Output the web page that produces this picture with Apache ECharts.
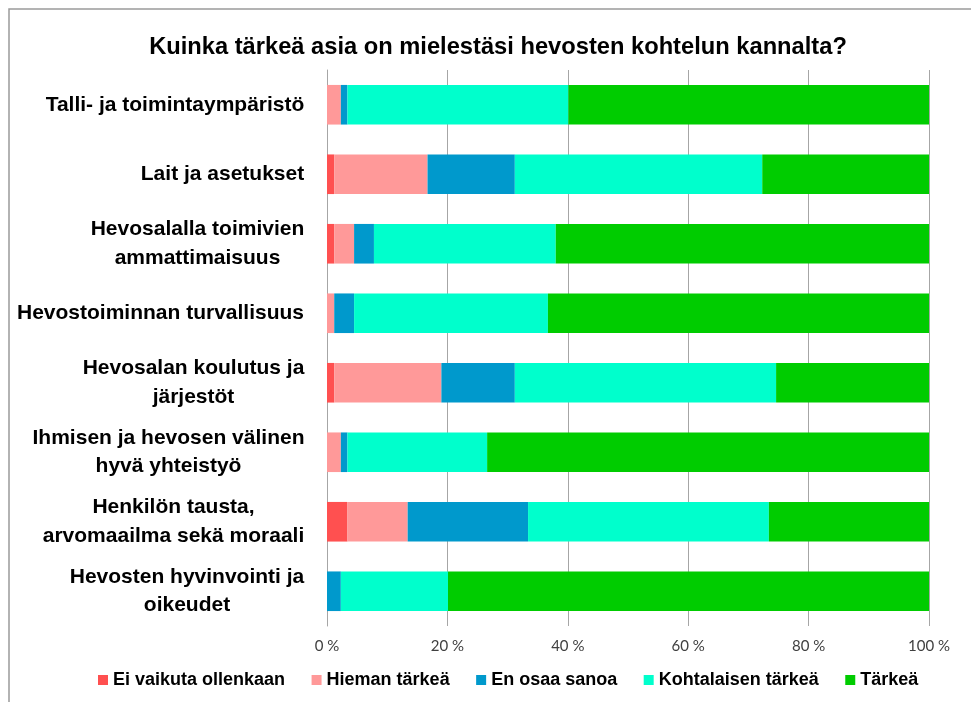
<!DOCTYPE html>
<html>
<head>
<meta charset="utf-8">
<script src="https://cdn.jsdelivr.net/npm/echarts@6/dist/echarts.min.js"></script>
<style>
  html, body { margin: 0; padding: 0; background: #fff; }
  #chart { width: 971px; height: 702px; }
</style>
</head>
<body>
<div id="chart"></div>
<script>
// kategoriat ylhäältä alas
const categories = [
  'Talli- ja toimintaympäristö',
  'Lait ja asetukset',
  'Hevosalalla toimivien\nammattimaisuus',
  'Hevostoiminnan turvallisuus',
  'Hevosalan koulutus ja\njärjestöt',
  'Ihmisen ja hevosen välinen\nhyvä yhteistyö',
  'Henkilön tausta,\narvomaailma sekä moraali',
  'Hevosten hyvinvointi ja\noikeudet'
]

const seriesNames = ['Ei vaikuta ollenkaan', 'Hieman tärkeä', 'En osaa sanoa', 'Kohtalaisen tärkeä', 'Tärkeä']
const colors = ['#FF5050', '#FF9999', '#0099CC', '#00FFCC', '#00CC00']

// prosentit
const eiVaikuta = [0, 1.2, 1.2, 0, 1.2, 0, 3.4, 0]
const hiemanTarkea = [2.3, 15.5, 3.3, 1.2, 17.8, 2.3, 10.0, 0]
const enOsaaSanoa = [1.1, 14.5, 3.3, 3.3, 12.2, 1.1, 20.0, 2.3]
const kohtalaisenTarkea = [36.7, 41.1, 30.2, 32.2, 43.4, 23.2, 40.0, 17.8]
const tarkea = [59.9, 27.7, 62.0, 63.3, 25.4, 73.4, 26.6, 79.9]

const xTicks = [0, 20, 40, 60, 80, 100]

const FONT = '"Liberation Sans", Arial, sans-serif'
const LABEL_SIZE = 21

// mittaa rivien leveys, jotta monirivinen nimi keskitetään
const ctx = document.createElement('canvas').getContext('2d')
ctx.font = 'bold ' + LABEL_SIZE + 'px ' + FONT
const rich = {}
categories.forEach((c, i) => {
  const w = Math.max(...c.split('\n').map((s) => ctx.measureText(s).width))
  rich['c' + i] = {
    width: Math.ceil(w) + 1,
    align: 'center',
    fontFamily: FONT,
    fontWeight: 'bold',
    fontSize: LABEL_SIZE,
    lineHeight: 28.5,
    color: '#000'
  }
})

const allData = [eiVaikuta, hiemanTarkea, enOsaaSanoa, kohtalaisenTarkea, tarkea]

const chart = echarts.init(document.getElementById('chart'))

chart.setOption({
  animation: false,
  color: colors,
  textStyle: { fontFamily: FONT },
  title: {
    text: 'Kuinka tärkeä asia on mielestäsi hevosten kohtelun kannalta?',
    left: 493,
    top: 30,
    textAlign: 'center',
    textStyle: { fontFamily: FONT, fontWeight: 'bold', fontSize: 23.7, color: '#000' }
  },
  graphic: [
    {
      type: 'rect',
      shape: { x: 9, y: 9, width: 1000, height: 1000 },
      style: { fill: 'none', stroke: '#9a9a9a', lineWidth: 1.5 },
      silent: true
    }
  ],
  legend: {
    data: seriesNames,
    left: 93,
    top: 666,
    itemWidth: 10,
    itemHeight: 10,
    itemGap: 26.5,
    icon: 'rect',
    textStyle: { fontFamily: FONT, fontWeight: 'bold', fontSize: 18, color: '#000' }
  },
  grid: { left: 327, right: 42, top: 70, bottom: 76, containLabel: false },
  xAxis: {
    type: 'value',
    min: xTicks[0],
    max: xTicks[xTicks.length - 1],
    interval: 20,
    axisLine: { show: false },
    axisTick: { show: false },
    splitLine: { lineStyle: { color: '#a6a6a6', width: 1 } },
    axisLabel: {
      formatter: '{value} %',
      fontFamily: 'Lato',
      fontSize: 15,
      color: '#404040',
      margin: 13
    }
  },
  yAxis: {
    type: 'category',
    inverse: true,
    data: categories,
    axisLine: { show: true, lineStyle: { color: '#a6a6a6', width: 1 } },
    axisTick: { show: false },
    axisLabel: {
      margin: 22,
      formatter: (v, i) => v.split('\n').map((s) => '{c' + i + '|' + s + '}').join('\n'),
      rich: rich
    }
  },
  series: seriesNames.map((name, k) => ({
    name: name,
    type: 'bar',
    stack: 'total',
    barWidth: '57%',
    data: allData[k],
    itemStyle: { color: colors[k] }
  }))
})
</script>
</body>
</html>
